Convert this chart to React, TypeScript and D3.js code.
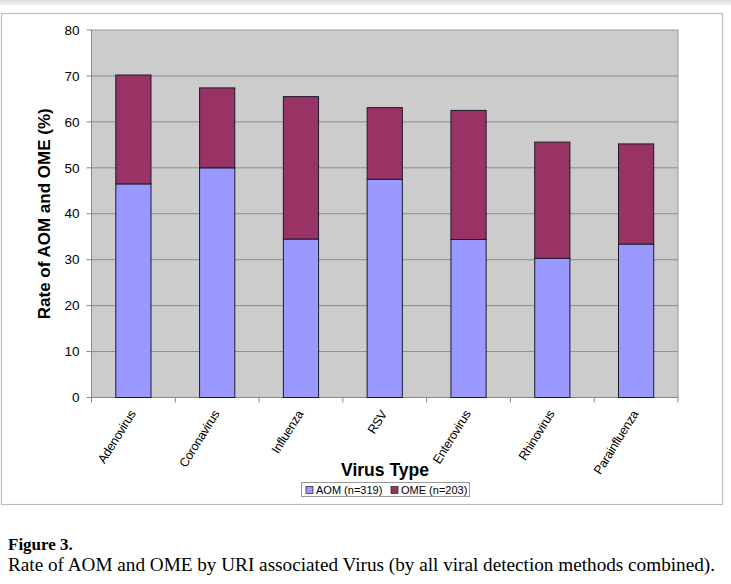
import React from "react";
import * as d3 from "d3";

const categories = ["Adenovirus", "Coronavirus", "Influenza", "RSV", "Enterovirus", "Rhinovirus", "Parainfluenza"];
const aomValues = [46.5, 50.0, 34.5, 47.5, 34.4, 30.3, 33.4];
const omeValues = [23.7, 17.4, 31.0, 15.6, 28.1, 25.3, 21.8];
const yTicks = [0, 10, 20, 30, 40, 50, 60, 70, 80];
const seriesNames = ["AOM (n=319)", "OME (n=203)"];
const seriesColors = ["#9999ff", "#993366"];

export default function App() {
  const W = 731, H = 584;
  const left = 91.5, right = 678, top = 30, bottom = 397.5;
  const x = d3.scaleBand<string>().domain(categories).range([left, right]).paddingInner(0.58).paddingOuter(0.29);
  const xb = d3.scaleBand<string>().domain(categories).range([left, right]);
  const y = d3.scaleLinear().domain([0, 80]).range([bottom, top]);
  const rows = categories.map((c, i) => ({ cat: c, aom: aomValues[i], ome: omeValues[i] }));
  const stacked = d3.stack<any>().keys(["aom", "ome"])(rows);
  const font = "Arial, 'Liberation Sans', sans-serif";
  const serif = "'Liberation Serif', 'Times New Roman', serif";

  return (
    <svg width={W} height={H} style={{ position: "absolute", left: 0, top: 0, background: "#fff" }}>
      <defs>
        <linearGradient id="band" x1="0" y1="0" x2="0" y2="1">
          <stop offset="0" stopColor="#dcdcdc" />
          <stop offset="1" stopColor="#f4f4f4" />
        </linearGradient>
      </defs>
      <rect x={0} y={0} width={W} height={5} fill="url(#band)" />
      <rect x={1.5} y={13.5} width={721} height={491} fill="#fff" stroke="#bdbdbd" strokeWidth={1.2} />
      <rect x={left} y={top} width={right - left} height={bottom - top} fill="#cccccc" stroke="#999" strokeWidth={1} />
      {yTicks.filter(t => t > 0 && t < 80).map(t => (
        <line key={"g" + t} x1={left} x2={right} y1={y(t)} y2={y(t)} stroke="#8c8c8c" strokeWidth={1} />
      ))}
      <line x1={left} x2={left} y1={top} y2={bottom} stroke="#888" />
      {yTicks.map(t => (
        <g key={"t" + t}>
          <line x1={left - 5} x2={left} y1={y(t)} y2={y(t)} stroke="#888" />
          <text x={left - 12} y={y(t)} dy="0.35em" textAnchor="end" fontFamily={font} fontSize={13.5} fill="#000">{t}</text>
        </g>
      ))}
      <line x1={left} x2={right} y1={bottom} y2={bottom} stroke="#888" />
      {categories.map(c => (
        <line key={"xt" + c} x1={xb(c)!} x2={xb(c)!} y1={bottom} y2={bottom + 5} stroke="#888" />
      ))}
      <line x1={right} x2={right} y1={bottom} y2={bottom + 5} stroke="#888" />
      {stacked.map((s, si) => (
        <g key={"s" + si}>
          {s.map((d: any, i: number) => (
            <rect key={i} x={x(categories[i])!} width={x.bandwidth()} y={y(d[1])} height={y(d[0]) - y(d[1])}
              fill={seriesColors[si]} stroke="#1a1a2e" strokeWidth={1} />
          ))}
        </g>
      ))}
      {categories.map(c => {
        const cx = xb(c)! + xb.bandwidth() / 2 - 1;
        const cy = bottom + 14;
        return (
          <text key={"l" + c} transform={`translate(${cx},${cy}) rotate(-58)`} textAnchor="end" dy="0.35em"
            fontFamily={font} fontSize={12.5} fill="#000" style={{ letterSpacing: "-0.3px" }}>{c}</text>
        );
      })}
      <text transform={`translate(50,${(top + bottom) / 2}) rotate(-90)`} textAnchor="middle" fontFamily={font}
        fontSize={17} fontWeight="bold" fill="#000">Rate of AOM and OME (%)</text>
      <text x={385} y={476} textAnchor="middle" fontFamily={font} fontSize={17.5} fontWeight="bold" fill="#000">Virus Type</text>
      <rect x={301.5} y={482.5} width={168} height={14} fill="#fff" stroke="#999" />
      {seriesNames.map((n, i) => (
        <g key={n}>
          <rect x={306 + i * 85} y={486.5} width={7} height={7} fill={seriesColors[i]} stroke="#333" strokeWidth={0.8} />
          <text x={316 + i * 85} y={490} dy="0.35em" fontFamily={font} fontSize={11} fill="#000">{n}</text>
        </g>
      ))}
      <text x={8} y={550} fontFamily={serif} fontSize={17} fontWeight="bold" fill="#000">Figure 3.</text>
      <text x={8} y={571} fontFamily={serif} fontSize={18.5} textLength={707} lengthAdjust="spacingAndGlyphs" fill="#000">Rate of AOM and OME by URI associated Virus (by all viral detection methods combined).</text>
    </svg>
  );
}
